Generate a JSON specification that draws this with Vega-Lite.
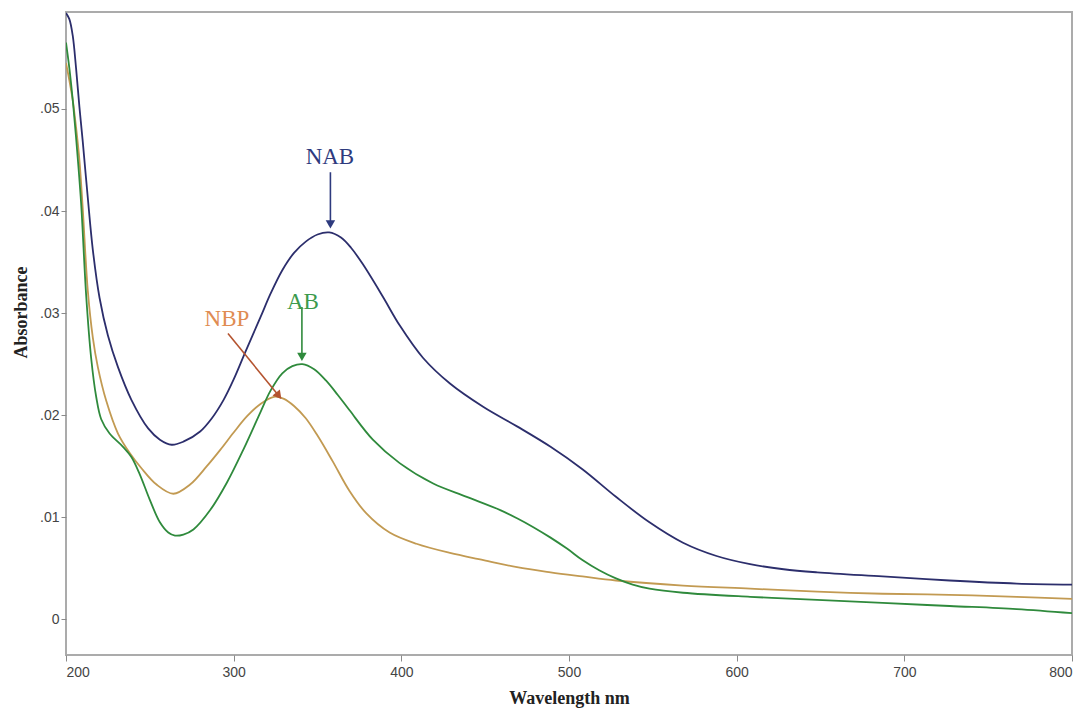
{
  "$schema": "https://vega.github.io/schema/vega-lite/v6.json",
  "width": 1006,
  "height": 643,
  "autosize": {"type": "none"},
  "padding": {"left": 66, "top": 12, "right": 18, "bottom": 64},
  "background": "white",
  "config": {
    "view": {"stroke": "#ababab", "strokeWidth": 2},
    "axis": {
      "grid": false,
      "domain": false,
      "tickColor": "#8a8a8a",
      "labelFont": "Liberation Sans",
      "labelFontSize": 14,
      "labelColor": "#444444",
      "titleFont": "Liberation Serif",
      "titleFontSize": 18,
      "titleFontWeight": "bold",
      "titleColor": "#222222"
    }
  },
  "datasets": {
    "spectra": [
      {"series": "NAB", "wavelength": 200, "absorbance": 0.0594},
      {"series": "NAB", "wavelength": 202, "absorbance": 0.0588},
      {"series": "NAB", "wavelength": 204, "absorbance": 0.0572},
      {"series": "NAB", "wavelength": 206, "absorbance": 0.0540},
      {"series": "NAB", "wavelength": 208, "absorbance": 0.0502},
      {"series": "NAB", "wavelength": 210, "absorbance": 0.0468},
      {"series": "NAB", "wavelength": 213, "absorbance": 0.0413},
      {"series": "NAB", "wavelength": 216, "absorbance": 0.0362},
      {"series": "NAB", "wavelength": 220, "absorbance": 0.0315},
      {"series": "NAB", "wavelength": 225, "absorbance": 0.0278},
      {"series": "NAB", "wavelength": 231, "absorbance": 0.0247},
      {"series": "NAB", "wavelength": 239, "absorbance": 0.0215},
      {"series": "NAB", "wavelength": 249, "absorbance": 0.0187},
      {"series": "NAB", "wavelength": 256, "absorbance": 0.0176},
      {"series": "NAB", "wavelength": 263, "absorbance": 0.0171},
      {"series": "NAB", "wavelength": 270, "absorbance": 0.0174},
      {"series": "NAB", "wavelength": 280, "absorbance": 0.0184},
      {"series": "NAB", "wavelength": 287, "absorbance": 0.0197},
      {"series": "NAB", "wavelength": 294, "absorbance": 0.0215},
      {"series": "NAB", "wavelength": 300, "absorbance": 0.0235},
      {"series": "NAB", "wavelength": 307, "absorbance": 0.0262},
      {"series": "NAB", "wavelength": 316, "absorbance": 0.0296},
      {"series": "NAB", "wavelength": 322, "absorbance": 0.0319},
      {"series": "NAB", "wavelength": 329, "absorbance": 0.0342},
      {"series": "NAB", "wavelength": 336, "absorbance": 0.0359},
      {"series": "NAB", "wavelength": 343, "absorbance": 0.0370},
      {"series": "NAB", "wavelength": 350, "absorbance": 0.0377},
      {"series": "NAB", "wavelength": 357, "absorbance": 0.0379},
      {"series": "NAB", "wavelength": 364, "absorbance": 0.0374},
      {"series": "NAB", "wavelength": 370, "absorbance": 0.0364},
      {"series": "NAB", "wavelength": 377, "absorbance": 0.0348},
      {"series": "NAB", "wavelength": 389, "absorbance": 0.0316},
      {"series": "NAB", "wavelength": 399, "absorbance": 0.0288},
      {"series": "NAB", "wavelength": 413, "absorbance": 0.0256},
      {"series": "NAB", "wavelength": 429, "absorbance": 0.0231},
      {"series": "NAB", "wavelength": 449, "absorbance": 0.0208},
      {"series": "NAB", "wavelength": 469, "absorbance": 0.0189},
      {"series": "NAB", "wavelength": 489, "absorbance": 0.0169},
      {"series": "NAB", "wavelength": 508, "absorbance": 0.0147},
      {"series": "NAB", "wavelength": 528, "absorbance": 0.0120},
      {"series": "NAB", "wavelength": 548, "absorbance": 0.0095},
      {"series": "NAB", "wavelength": 568, "absorbance": 0.0075},
      {"series": "NAB", "wavelength": 588, "absorbance": 0.0062},
      {"series": "NAB", "wavelength": 608, "absorbance": 0.0054},
      {"series": "NAB", "wavelength": 628, "absorbance": 0.0049},
      {"series": "NAB", "wavelength": 648, "absorbance": 0.0046},
      {"series": "NAB", "wavelength": 687, "absorbance": 0.0042},
      {"series": "NAB", "wavelength": 727, "absorbance": 0.0038},
      {"series": "NAB", "wavelength": 767, "absorbance": 0.0035},
      {"series": "NAB", "wavelength": 800, "absorbance": 0.0034},

      {"series": "NBP", "wavelength": 200, "absorbance": 0.0545},
      {"series": "NBP", "wavelength": 202, "absorbance": 0.0528},
      {"series": "NBP", "wavelength": 204, "absorbance": 0.0509},
      {"series": "NBP", "wavelength": 206, "absorbance": 0.0482},
      {"series": "NBP", "wavelength": 208, "absorbance": 0.0450},
      {"series": "NBP", "wavelength": 210, "absorbance": 0.0402},
      {"series": "NBP", "wavelength": 213, "absorbance": 0.0322},
      {"series": "NBP", "wavelength": 216, "absorbance": 0.0276},
      {"series": "NBP", "wavelength": 219, "absorbance": 0.0247},
      {"series": "NBP", "wavelength": 224, "absorbance": 0.0214},
      {"series": "NBP", "wavelength": 231, "absorbance": 0.0182},
      {"series": "NBP", "wavelength": 238, "absorbance": 0.0163},
      {"series": "NBP", "wavelength": 245, "absorbance": 0.0148},
      {"series": "NBP", "wavelength": 254, "absorbance": 0.0132},
      {"series": "NBP", "wavelength": 264, "absorbance": 0.0123},
      {"series": "NBP", "wavelength": 274, "absorbance": 0.0132},
      {"series": "NBP", "wavelength": 284, "absorbance": 0.0150},
      {"series": "NBP", "wavelength": 292, "absorbance": 0.0166},
      {"series": "NBP", "wavelength": 300, "absorbance": 0.0183},
      {"series": "NBP", "wavelength": 308, "absorbance": 0.0199},
      {"series": "NBP", "wavelength": 316, "absorbance": 0.0211},
      {"series": "NBP", "wavelength": 324, "absorbance": 0.0218},
      {"series": "NBP", "wavelength": 330, "absorbance": 0.0216},
      {"series": "NBP", "wavelength": 336, "absorbance": 0.0209},
      {"series": "NBP", "wavelength": 343, "absorbance": 0.0197},
      {"series": "NBP", "wavelength": 350, "absorbance": 0.0180},
      {"series": "NBP", "wavelength": 359, "absorbance": 0.0155},
      {"series": "NBP", "wavelength": 369, "absorbance": 0.0126},
      {"series": "NBP", "wavelength": 379, "absorbance": 0.0104},
      {"series": "NBP", "wavelength": 393, "absorbance": 0.0085},
      {"series": "NBP", "wavelength": 409, "absorbance": 0.0074},
      {"series": "NBP", "wavelength": 429, "absorbance": 0.0065},
      {"series": "NBP", "wavelength": 449, "absorbance": 0.0058},
      {"series": "NBP", "wavelength": 469, "absorbance": 0.0051},
      {"series": "NBP", "wavelength": 489, "absorbance": 0.0046},
      {"series": "NBP", "wavelength": 508, "absorbance": 0.0042},
      {"series": "NBP", "wavelength": 528, "absorbance": 0.0038},
      {"series": "NBP", "wavelength": 568, "absorbance": 0.0033},
      {"series": "NBP", "wavelength": 608, "absorbance": 0.0030},
      {"series": "NBP", "wavelength": 648, "absorbance": 0.0027},
      {"series": "NBP", "wavelength": 687, "absorbance": 0.0025},
      {"series": "NBP", "wavelength": 727, "absorbance": 0.0024},
      {"series": "NBP", "wavelength": 767, "absorbance": 0.0022},
      {"series": "NBP", "wavelength": 800, "absorbance": 0.0020},

      {"series": "AB", "wavelength": 200, "absorbance": 0.0565},
      {"series": "AB", "wavelength": 202, "absorbance": 0.0540},
      {"series": "AB", "wavelength": 204, "absorbance": 0.0509},
      {"series": "AB", "wavelength": 206, "absorbance": 0.0472},
      {"series": "AB", "wavelength": 209, "absorbance": 0.0408},
      {"series": "AB", "wavelength": 212, "absorbance": 0.0318},
      {"series": "AB", "wavelength": 215, "absorbance": 0.0256},
      {"series": "AB", "wavelength": 218, "absorbance": 0.0218},
      {"series": "AB", "wavelength": 221, "absorbance": 0.0196},
      {"series": "AB", "wavelength": 226, "absorbance": 0.0182},
      {"series": "AB", "wavelength": 234, "absorbance": 0.0169},
      {"series": "AB", "wavelength": 239, "absorbance": 0.0159},
      {"series": "AB", "wavelength": 244, "absorbance": 0.0142},
      {"series": "AB", "wavelength": 250, "absorbance": 0.0117},
      {"series": "AB", "wavelength": 256, "absorbance": 0.0095},
      {"series": "AB", "wavelength": 261, "absorbance": 0.0085},
      {"series": "AB", "wavelength": 265, "absorbance": 0.0082},
      {"series": "AB", "wavelength": 270, "absorbance": 0.0083},
      {"series": "AB", "wavelength": 276, "absorbance": 0.0088},
      {"series": "AB", "wavelength": 286, "absorbance": 0.0107},
      {"series": "AB", "wavelength": 296, "absorbance": 0.0134},
      {"series": "AB", "wavelength": 306, "absorbance": 0.0167},
      {"series": "AB", "wavelength": 316, "absorbance": 0.0203},
      {"series": "AB", "wavelength": 322, "absorbance": 0.0224},
      {"series": "AB", "wavelength": 329, "absorbance": 0.0241},
      {"series": "AB", "wavelength": 335, "absorbance": 0.0248},
      {"series": "AB", "wavelength": 341, "absorbance": 0.0250},
      {"series": "AB", "wavelength": 348, "absorbance": 0.0245},
      {"series": "AB", "wavelength": 355, "absorbance": 0.0234},
      {"series": "AB", "wavelength": 362, "absorbance": 0.0220},
      {"series": "AB", "wavelength": 369, "absorbance": 0.0205},
      {"series": "AB", "wavelength": 383, "absorbance": 0.0176},
      {"series": "AB", "wavelength": 399, "absorbance": 0.0153},
      {"series": "AB", "wavelength": 419, "absorbance": 0.0133},
      {"series": "AB", "wavelength": 439, "absorbance": 0.0120},
      {"series": "AB", "wavelength": 459, "absorbance": 0.0107},
      {"series": "AB", "wavelength": 469, "absorbance": 0.0099},
      {"series": "AB", "wavelength": 479, "absorbance": 0.0090},
      {"series": "AB", "wavelength": 489, "absorbance": 0.0080},
      {"series": "AB", "wavelength": 499, "absorbance": 0.0069},
      {"series": "AB", "wavelength": 508, "absorbance": 0.0058},
      {"series": "AB", "wavelength": 518, "absorbance": 0.0048},
      {"series": "AB", "wavelength": 528, "absorbance": 0.0040},
      {"series": "AB", "wavelength": 538, "absorbance": 0.0034},
      {"series": "AB", "wavelength": 548, "absorbance": 0.0030},
      {"series": "AB", "wavelength": 568, "absorbance": 0.0026},
      {"series": "AB", "wavelength": 608, "absorbance": 0.0022},
      {"series": "AB", "wavelength": 648, "absorbance": 0.0019},
      {"series": "AB", "wavelength": 687, "absorbance": 0.0016},
      {"series": "AB", "wavelength": 727, "absorbance": 0.0013},
      {"series": "AB", "wavelength": 767, "absorbance": 0.0010},
      {"series": "AB", "wavelength": 800, "absorbance": 0.0006}
    ],
    "labels": [
      {"key": "NAB label", "text": "NAB", "wavelength": 357.4, "absorbance": 0.0453},
      {"key": "AB label", "text": "AB", "wavelength": 341.3, "absorbance": 0.0311},
      {"key": "NBP label", "text": "NBP", "wavelength": 296.0, "absorbance": 0.0294}
    ],
    "arrows": [
      {"key": "NAB arrow", "wavelength": 357.7, "absorbance": 0.0438, "wavelength2": 357.7, "absorbance2": 0.0387},
      {"key": "AB arrow", "wavelength": 340.7, "absorbance": 0.0306, "wavelength2": 340.7, "absorbance2": 0.0257},
      {"key": "NBP arrow", "wavelength": 296.6, "absorbance": 0.0280, "wavelength2": 326.9, "absorbance2": 0.0219}
    ]
  },
  "layer": [
    {
      "data": {"name": "spectra"},
      "mark": {"type": "line", "strokeWidth": 1.8, "interpolate": "catmull-rom", "clip": true},
      "encoding": {
        "x": {"field": "wavelength", "type": "quantitative", "scale": {"domain": [200, 800], "nice": false, "zero": false},
          "axis": {"values": [200, 300, 400, 500, 600, 700, 800], "tickSize": 6, "labelPadding": 4, "title": "Wavelength nm", "titlePadding": 10}},
        "y": {"field": "absorbance", "type": "quantitative", "scale": {"domain": [-0.0035, 0.0595], "nice": false, "zero": false},
          "axis": {"values": [0, 0.01, 0.02, 0.03, 0.04, 0.05], "tickSize": 5, "labelPadding": 2,
            "labelExpr": "datum.value == 0 ? '0' : replace(format(datum.value, '.2f'), '0.', '.')",
            "title": "Absorbance", "titleX": -45, "titleY": 300, "titleBaseline": "middle", "titleAngle": -90}},
        "color": {"field": "series", "type": "nominal", "legend": null,
          "scale": {"domain": ["NAB", "NBP", "AB", "NAB label", "AB label", "NBP label", "NAB arrow", "AB arrow", "NBP arrow"],
            "range": ["#2c2e6c", "#c29a52", "#2f8a3c", "#2e3a7e", "#3c9a4c", "#e08c52", "#2e3a7e", "#2f8a3c", "#b4532f"]}},
        "detail": {"field": "series"}
      }
    },
    {
      "data": {"name": "arrows"},
      "mark": {"type": "rule", "strokeWidth": 1.6},
      "encoding": {
        "x": {"field": "wavelength", "type": "quantitative"},
        "y": {"field": "absorbance", "type": "quantitative"},
        "x2": {"field": "wavelength2"},
        "y2": {"field": "absorbance2"},
        "color": {"field": "key", "type": "nominal", "legend": null}
      }
    },
    {
      "data": {"name": "arrows"},
      "transform": [{"filter": "datum.key != 'NBP arrow'"}],
      "mark": {"type": "point", "shape": "triangle-down", "filled": true, "size": 90, "opacity": 1},
      "encoding": {
        "x": {"field": "wavelength2", "type": "quantitative"},
        "y": {"field": "absorbance2", "type": "quantitative"},
        "color": {"field": "key", "type": "nominal", "legend": null}
      }
    },
    {
      "data": {"name": "arrows"},
      "transform": [{"filter": "datum.key == 'NBP arrow'"}],
      "mark": {"type": "point", "shape": "triangle-down", "filled": true, "size": 90, "angle": 321, "opacity": 1},
      "encoding": {
        "x": {"field": "wavelength2", "type": "quantitative"},
        "y": {"field": "absorbance2", "type": "quantitative"},
        "color": {"field": "key", "type": "nominal", "legend": null}
      }
    },
    {
      "data": {"name": "labels"},
      "mark": {"type": "text", "font": "Liberation Serif", "fontSize": 23, "baseline": "middle", "align": "center"},
      "encoding": {
        "x": {"field": "wavelength", "type": "quantitative"},
        "y": {"field": "absorbance", "type": "quantitative"},
        "text": {"field": "text"},
        "color": {"field": "key", "type": "nominal", "legend": null}
      }
    }
  ]
}
